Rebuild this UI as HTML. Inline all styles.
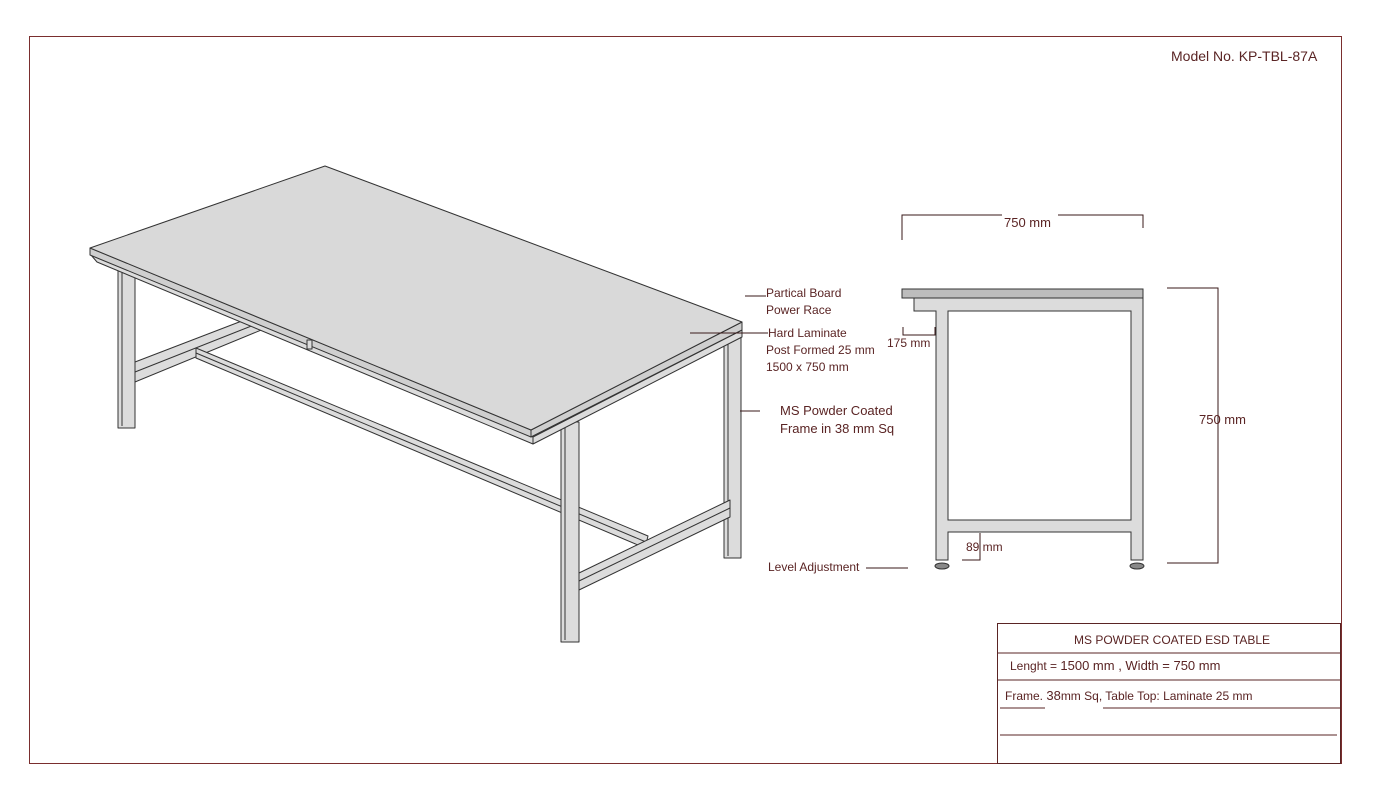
<!DOCTYPE html>
<html><head><meta charset="utf-8"><style>
html,body{margin:0;padding:0;background:#fff;}
svg{display:block;}
text{font-family:"Liberation Sans",sans-serif;fill:#5a2424;}
</style></head><body>
<svg width="1382" height="809" viewBox="0 0 1382 809" xmlns="http://www.w3.org/2000/svg">
<rect x="29.5" y="36.5" width="1312" height="727" fill="none" stroke="#7a2e2e" stroke-width="1"/>
<text x="1171" y="61" font-size="14">Model No. KP-TBL-87A</text>

<g stroke="#333" stroke-width="1" fill="#dcdcdc" stroke-linejoin="round">
<polygon points="135,362 247,319 271,326 135,382"/>
<line x1="135" y1="372" x2="259" y2="323"/>
<polygon points="196,348 648,536 645,548 196,358"/>
<line x1="196" y1="353" x2="646" y2="542"/>
<rect x="118" y="263" width="17" height="165"/>
<line x1="122" y1="265" x2="122" y2="426"/>
<rect x="724" y="330" width="17" height="228"/>
<line x1="728" y1="332" x2="728" y2="556"/>
<polygon points="579,573 730,500 730,517 579,590"/>
<line x1="579" y1="581" x2="730" y2="508"/>
<rect x="561" y="422" width="18" height="220"/>
<line x1="565" y1="424" x2="565" y2="640"/>
<polygon points="91,255 533,437 533,444 97,262"/>
<polygon points="533,437 742,330 742,337 533,444"/>
<polygon points="90,248 531,430 531,437 90,255" fill="#cfcfcf"/>
<polygon points="531,430 742,322 742,330 531,437" fill="#cfcfcf"/>
<polygon points="90,248 325,166 742,322 531,430" fill="#d9d9d9"/>
<rect x="307" y="340" width="5" height="9"/>
</g>

<g stroke="#333" stroke-width="1">
<rect x="902" y="289" width="241" height="9" fill="#bdbdbd"/>
<path d="M914,298 H1143 V560 H1131 V532 H948 V560 H936 V311 H914 Z" fill="#dcdcdc"/>
<rect x="948" y="311" width="183" height="209" fill="#fff"/>
<ellipse cx="942" cy="566" rx="7" ry="3" fill="#888"/>
<ellipse cx="1137" cy="566" rx="7" ry="3" fill="#888"/>
</g>

<g stroke="#3a1a1a" stroke-width="1" fill="none">
<polyline points="902,240 902,215 1143,215 1143,228"/>
<polyline points="1167,288 1218,288 1218,563 1167,563"/>
<polyline points="903,327 903,335 935,335 935,327"/>
<polyline points="980,533 980,560 962,560"/>
<line x1="745" y1="296" x2="766" y2="296"/>
<line x1="690" y1="333" x2="768" y2="333"/>
<line x1="740" y1="411" x2="760" y2="411"/>
<line x1="866" y1="568" x2="908" y2="568"/>
</g>
<rect x="1002" y="208" width="56" height="14" fill="#fff"/>
<text x="1004" y="227" font-size="13">750 mm</text>
<text x="1199" y="424" font-size="13">750 mm</text>
<text x="887" y="347" font-size="12">175 mm</text>
<text x="966" y="551" font-size="12">89 mm</text>

<g font-size="12">
<text x="766" y="297">Partical Board</text>
<text x="766" y="314">Power Race</text>
<text x="768" y="337">Hard Laminate</text>
<text x="766" y="354">Post Formed 25 mm</text>
<text x="766" y="371">1500 x 750 mm</text>
<text x="780" y="415" font-size="13">MS Powder Coated</text>
<text x="780" y="433" font-size="13">Frame in 38 mm Sq</text>
<text x="768" y="571">Level Adjustment</text>
</g>

<g stroke="#5a2424" stroke-width="1" fill="none">
<rect x="997.5" y="623.5" width="343" height="140"/>
<line x1="998" y1="653" x2="1340" y2="653"/>
<line x1="998" y1="680" x2="1340" y2="680"/>
<line x1="1000" y1="708" x2="1045" y2="708"/>
<line x1="1103" y1="708" x2="1340" y2="708"/>
<line x1="1000" y1="735" x2="1337" y2="735"/>
</g>
<text x="1172" y="644" font-size="12" text-anchor="middle">MS POWDER COATED ESD TABLE</text>
<text x="1010" y="670" font-size="12">Lenght = <tspan font-size="13">1500 mm , Width = 750 mm</tspan></text>
<text x="1005" y="700" font-size="12">Frame. <tspan font-size="13">38</tspan>mm Sq, Table Top: Laminate 25 mm</text>
</svg>
</body></html>
